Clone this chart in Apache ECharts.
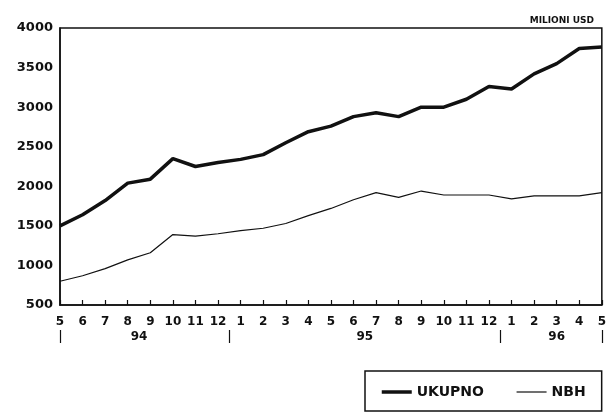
<!DOCTYPE html>
<html>
<head>
<meta charset="utf-8">
<script src="https://cdn.jsdelivr.net/npm/echarts@6/dist/echarts.min.js"></script>
<style>
html,body{margin:0;padding:0;background:#fff;}
#chart{width:609px;height:415px;}
</style>
</head>
<body>
<div id="chart"></div>
<script>
const months = ['5','6','7','8','9','10','11','12','1','2','3','4','5','6','7','8','9','10','11','12','1','2','3','4','5'];
const ukupno = [1500,1640,1820,2040,2090,2350,2250,2300,2340,2400,2550,2690,2760,2880,2930,2880,3000,3000,3100,3260,3230,3420,3550,3740,3760];
const nbh = [800,870,960,1070,1160,1390,1370,1400,1440,1470,1530,1630,1720,1830,1920,1860,1940,1890,1890,1890,1840,1880,1880,1880,1920];
const yearTickPos = [0,7.5,19.5,24];
const yearLabelPos = [3.5,13.5,22];
const yearLabels = ['94','95','96'];
const yTicks = {min:500,max:4000,interval:500};

const FONT = 'DejaVu Sans';
const chart = echarts.init(document.getElementById('chart'));
chart.setOption({
  animation:false,
  backgroundColor:'#fff',
  title:{
    text:'MILIONI USD', right:10, top:11,
    textStyle:{fontFamily:FONT,fontSize:9,fontWeight:'bold',color:'#111'}
  },
  legend:{
    left:365, top:371,
    padding:[14,16,12,15],
    borderColor:'#111', borderWidth:1.5,
    itemWidth:30, itemHeight:14, itemGap:32,
    itemStyle:{opacity:0},
    textStyle:{fontFamily:FONT,fontSize:14,fontWeight:'bold',color:'#111'},
    data:[
      {name:'UKUPNO', lineStyle:{width:3.5,color:'#111'}},
      {name:'NBH', lineStyle:{width:1.2,color:'#111'}}
    ]
  },
  grid:{left:60,right:7,top:28,bottom:110,show:true,borderColor:'#111',borderWidth:1.5,backgroundColor:'transparent'},
  xAxis:[{
    type:'category', data:months, boundaryGap:false,
    axisLine:{lineStyle:{color:'#111',width:1.5}},
    axisTick:{inside:true,length:5,lineStyle:{color:'#111',width:1.2}},
    axisLabel:{interval:0,margin:11,fontFamily:FONT,fontSize:12,fontWeight:'bold',color:'#111'},
    splitLine:{show:false}
  },{
    type:'value', min:0, max:24, position:'bottom', offset:25,
    axisLine:{show:false},
    axisTick:{show:true,customValues:yearTickPos,length:13,lineStyle:{color:'#111',width:1.2}},
    axisLabel:{customValues:yearLabelPos,margin:1,fontFamily:FONT,fontSize:12,fontWeight:'bold',color:'#111',
      formatter:function(v){const i=yearLabelPos.indexOf(v);return i>=0?yearLabels[i]:'';}},
    splitLine:{show:false}
  }],
  yAxis:{
    type:'value', min:yTicks.min, max:yTicks.max, interval:yTicks.interval,
    axisLine:{show:true,lineStyle:{color:'#111',width:1.5}},
    axisTick:{show:false},
    splitLine:{show:false},
    axisLabel:{margin:7,fontFamily:FONT,fontSize:13,fontWeight:'bold',color:'#111',
      formatter:function(v){return String(v);}}
  },
  series:[
    {name:'UKUPNO',type:'line',data:ukupno,symbol:'none',xAxisIndex:0,
      lineStyle:{color:'#111',width:3.5},itemStyle:{color:'#111'}},
    {name:'NBH',type:'line',data:nbh,symbol:'none',xAxisIndex:0,
      lineStyle:{color:'#111',width:1.2},itemStyle:{color:'#111'}}
  ]
});
</script>
</body>
</html>
